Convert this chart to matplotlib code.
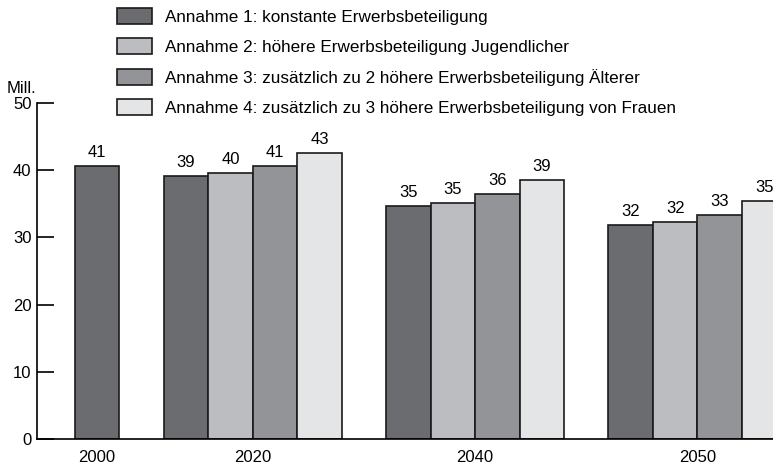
import numpy as np
import matplotlib.pyplot as plt

plt.rcParams['font.family'] = ['Liberation Sans', 'DejaVu Sans']

# Data (Mill. Erwerbspersonen)
years = ['2000', '2020', '2040', '2050']
annahme1 = [40.6, 39.2, 34.7, 31.9]
annahme2 = [np.nan, 39.6, 35.1, 32.3]
annahme3 = [np.nan, 40.6, 36.4, 33.4]
annahme4 = [np.nan, 42.6, 38.6, 35.4]
series_labels = [
    'Annahme 1: konstante Erwerbsbeteiligung',
    'Annahme 2: höhere Erwerbsbeteiligung Jugendlicher',
    'Annahme 3: zusätzlich zu 2 höhere Erwerbsbeteiligung Älterer',
    'Annahme 4: zusätzlich zu 3 höhere Erwerbsbeteiligung von Frauen',
]
colors = ['#6b6c70', '#bcbdc1', '#939497', '#e4e5e7']

series = [annahme1, annahme2, annahme3, annahme4]
FS = 12

# group centres: single bar for 2000, then groups of four separated by one bar width
centers = np.array([0, 3.5, 8.5, 13.5])
offsets = np.array([-1.5, -0.5, 0.5, 1.5])

fig = plt.figure(figsize=(7.73, 4.69), dpi=100)
ax = fig.add_axes([37 / 773, 1 - 439 / 469, 1 - 37 / 773, (439 - 103) / 469])

handles = []
for i, vals in enumerate(series):
    xs, hs = [], []
    for j, v in enumerate(vals):
        if np.isnan(v):
            continue
        x = centers[j] if j == 0 else centers[j] + offsets[i]
        xs.append(x)
        hs.append(v)
    bars = ax.bar(xs, hs, width=1.0, color=colors[i], edgecolor='#1a1a1a',
                  linewidth=1.2, label=series_labels[i])
    for x, h in zip(xs, hs):
        ax.text(x, h + 0.9, f'{round(h):d}', ha='center', va='bottom', fontsize=FS)
    handles.append(bars)

ax.set_ylim(0, 50)
ax.set_xlim(-1.35, 15.2)
ax.set_yticks(range(0, 51, 10))
ax.set_xticks(centers)
ax.set_xticklabels(years)
ax.tick_params(axis='y', direction='in', length=12, width=1.2, labelsize=FS, pad=4)
ax.tick_params(axis='x', length=0, labelsize=FS, pad=8)
for s in ['top', 'right']:
    ax.spines[s].set_visible(False)
ax.spines['left'].set_linewidth(1.2)
ax.spines['bottom'].set_linewidth(1.2)

fig.text(7 / 773, 1 - 88 / 469, 'Mill.', fontsize=FS, va='center', ha='left')

fig.legend(handles=handles, labels=series_labels, loc='upper left',
           bbox_to_anchor=(117 / 773, 1 - 8 / 469), frameon=False,
           fontsize=12.3, borderpad=0, handlelength=2.05, handleheight=1.05,
           handletextpad=0.76, labelspacing=0.8, borderaxespad=0)

fig.savefig('out.png', dpi=100)
